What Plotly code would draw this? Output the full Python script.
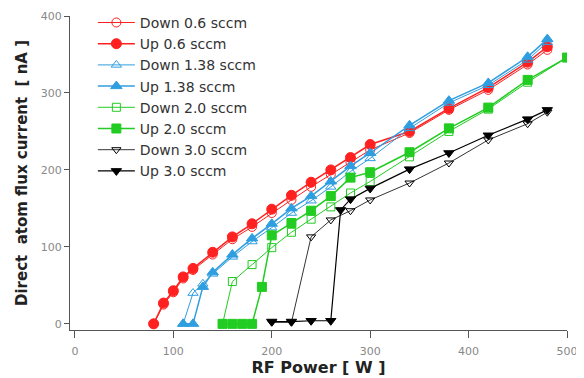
import plotly.graph_objects as go

# Data
x_red_up = [80, 90, 100, 110, 120, 140, 160, 180, 200, 220, 240, 260, 280, 300, 340, 380, 420, 460, 480]
y_red_up = [0, 27, 43, 61, 72, 93, 113, 130, 149, 167, 184, 200, 216, 233, 250, 280, 307, 340, 360]
x_red_dn = [80, 90, 100, 110, 120, 140, 160, 180, 200, 220, 240, 260, 280, 300, 340, 380, 420, 460, 480]
y_red_dn = [0, 25, 41, 59, 70, 90, 110, 126, 144, 161, 178, 194, 210, 226, 248, 278, 304, 337, 356]

x_blue_up = [110, 120, 130, 140, 160, 180, 200, 220, 240, 260, 280, 300, 340, 380, 420, 460, 480]
y_blue_up = [0, 0, 48, 67, 90, 111, 130, 150, 166, 185, 205, 222, 258, 290, 313, 347, 370]
x_blue_dn = [110, 120, 130, 140, 160, 180, 200, 220, 240, 260, 280, 300, 340, 380, 420, 460, 480]
y_blue_dn = [0, 40, 52, 65, 87, 107, 125, 144, 160, 178, 198, 215, 254, 287, 310, 343, 366]

x_green_up = [150, 160, 170, 180, 190, 200, 220, 240, 260, 280, 300, 340, 380, 420, 460, 500]
y_green_up = [0, 0, 0, 0, 48, 115, 131, 147, 166, 190, 197, 223, 254, 281, 317, 346]
x_green_dn = [150, 160, 180, 200, 220, 240, 260, 280, 300, 340, 380, 420, 460, 500]
y_green_dn = [0, 55, 77, 99, 119, 136, 152, 170, 185, 217, 250, 279, 314, 346]

x_black_up = [200, 220, 240, 260, 270, 280, 300, 340, 380, 420, 460, 480]
y_black_up = [3, 3, 4, 4, 148, 162, 176, 201, 222, 245, 266, 278]
x_black_dn = [200, 220, 240, 260, 280, 300, 340, 380, 420, 460, 480]
y_black_dn = [2, 2, 113, 135, 147, 161, 183, 209, 239, 260, 275]

x_ticks = [0, 100, 200, 300, 400, 500]
y_ticks = [0, 100, 200, 300, 400]

RED = "#ff2020"
BLUE = "#2f9ee0"
GREEN = "#22cc22"
BLACK = "#000000"

series = [
    ("Down 0.6 sccm", x_red_dn, y_red_dn, RED, "circle-open", 9, 1.0),
    ("Up 0.6 sccm", x_red_up, y_red_up, RED, "circle", 10, 1.5),
    ("Down 1.38 sccm", x_blue_dn, y_blue_dn, BLUE, "triangle-up-open", 9, 1.0),
    ("Up 1.38 sccm", x_blue_up, y_blue_up, BLUE, "triangle-up", 10, 1.5),
    ("Down 2.0 sccm", x_green_dn, y_green_dn, GREEN, "square-open", 8, 1.0),
    ("Up 2.0 sccm", x_green_up, y_green_up, GREEN, "square", 9, 1.5),
    ("Down 3.0 sccm", x_black_dn, y_black_dn, BLACK, "triangle-down-open", 8, 0.8),
    ("Up 3.0 sccm", x_black_up, y_black_up, BLACK, "triangle-down", 9, 1.2),
]

fig = go.Figure()
for name, xs, ys, col, sym, ms, lw in series:
    fig.add_trace(go.Scatter(
        x=xs, y=ys, name=name, mode="lines+markers",
        line=dict(color=col, width=lw),
        marker=dict(symbol=sym, size=ms, color=col, line=dict(color=col, width=1)),
    ))

axis_common = dict(
    showline=True, linecolor="#555555", linewidth=1,
    ticks="outside", tickcolor="#555555",
    showgrid=False, zeroline=False, automargin=False,
    tickfont=dict(family="DejaVu Sans", size=11, color="#888888"),
    mirror=False,
)

# The page body adds an 8px offset, so the figure is sized/margined to compensate
fig.update_layout(
    width=576, height=370,
    margin=dict(l=62, r=17, t=8, b=48, autoexpand=False),
    paper_bgcolor="white", plot_bgcolor="white",
    font=dict(family="DejaVu Sans", color="#222222"),
    xaxis=dict(range=[-5, 500], tickvals=x_ticks, ticklen=7, ticklabelstandoff=4,
               title=dict(text="<b>RF Power [ W ]</b>", font=dict(size=16, color="#222222"), standoff=3),
               **axis_common),
    yaxis=dict(range=[-8, 400], tickvals=y_ticks, ticklen=5,
               title=dict(text="<b>Direct  atom flux current  [ nA ]</b>", font=dict(size=15, color="#222222"), standoff=9),
               **axis_common),
    legend=dict(x=0.046, y=1.029, xanchor="left", yanchor="top",
                bgcolor="rgba(0,0,0,0)", font=dict(size=14, color="#333333"),
                itemwidth=37, tracegroupgap=0),
    showlegend=True,
)

fig.write_html("out.html")
